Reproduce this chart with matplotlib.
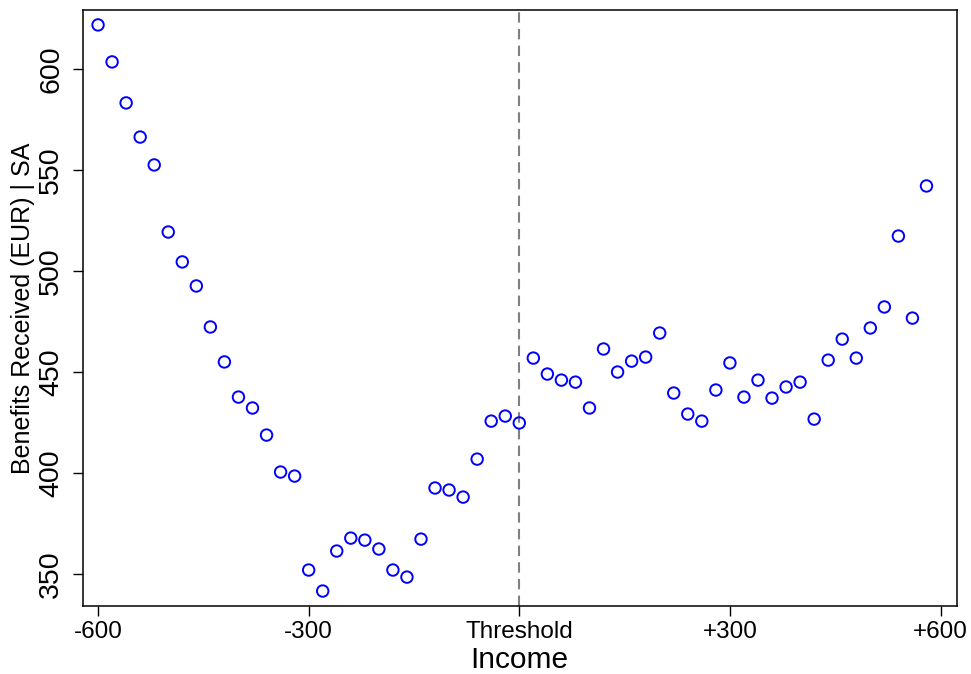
import numpy as np
import matplotlib.pyplot as plt

plt.rcParams['font.family'] = ['Liberation Sans', 'DejaVu Sans']

# Datos
income = np.array(list(range(-600, 1, 20)) + list(range(20, 600, 20)))
benefits = np.array([
    621.8, 603.5, 583.2, 566.3, 552.5, 519.3, 504.5, 492.6, 472.3, 455.0,
    437.6, 432.2, 418.8, 400.5, 398.5, 352.0, 341.6, 361.4, 367.8, 366.8,
    362.4, 352.0, 348.5, 367.3, 392.6, 391.6, 388.1, 406.9, 425.7, 428.2,
    424.8,
    456.9, 449.0, 446.0, 445.0, 432.2, 461.4, 450.0, 455.4, 457.4, 469.3,
    439.6, 429.2, 425.7, 441.1, 454.5, 437.6, 446.0, 437.1, 442.6, 445.0,
    426.7, 455.9, 466.3, 456.9, 471.8, 482.2, 517.3, 476.7, 542.1,
])
xtick_vals = [-600, -300, 0, 300, 600]
xtick_labels = ['-600', '-300', 'Threshold', '+300', '+600']
ytick_vals = [350, 400, 450, 500, 550, 600]

fig = plt.figure(figsize=(9.71, 6.74), dpi=100)
ax = fig.add_axes([0.0855, 0.1009, 0.8996, 0.8843])

ax.scatter(income, benefits, s=68, facecolors='none', edgecolors='blue', linewidths=1.4, zorder=3)
ax.axvline(0, color='gray', linestyle='--', linewidth=1.5, dashes=(5, 3))

ax.set_xlim(-621.4, 622.8)
ax.set_ylim(334.2, 629.2)
ax.set_xticks(xtick_vals)
ax.set_xticklabels(xtick_labels, fontsize=17.5)
ax.set_yticks(ytick_vals)
ax.set_yticklabels([str(v) for v in ytick_vals], fontsize=20.5, rotation=90, va='center')
ax.tick_params(direction='out', length=7.5, width=1)
ax.tick_params(axis='x', pad=3)
ax.tick_params(axis='y', pad=6)
ax.set_xlabel('Income', fontsize=21.5, labelpad=2.5)
ax.set_ylabel('Benefits Received (EUR) | SA', fontsize=18, labelpad=2)
for s in ax.spines.values():
    s.set_linewidth(1.1)

fig.savefig('out.png', dpi=100)
